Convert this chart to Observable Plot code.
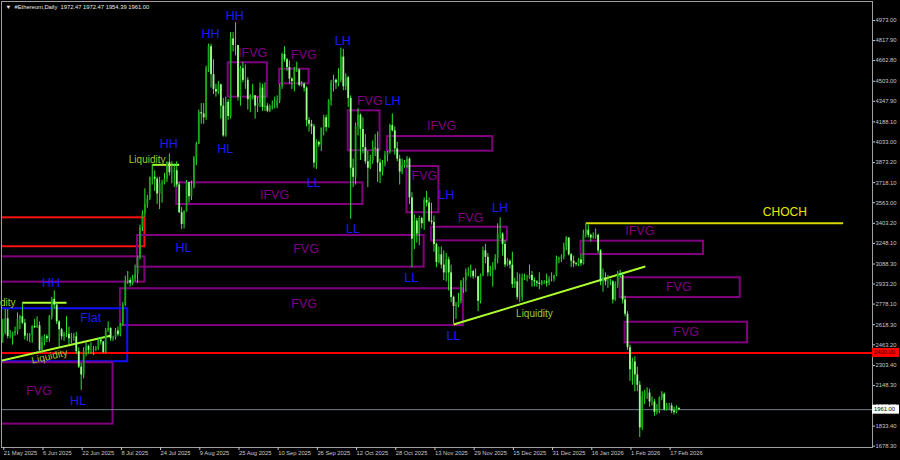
<!DOCTYPE html>
<html><head><meta charset="utf-8">
<script src="https://cdn.jsdelivr.net/npm/d3@7"></script>
<script src="https://cdn.jsdelivr.net/npm/@observablehq/plot@0.6"></script>
<style>
html,body{margin:0;padding:0;background:#000;}
#chart{width:900px;height:460px;overflow:hidden;}
</style></head><body><div id="chart"></div>
<script>
// ---------- data ----------
const firstDate = "2025-05-21";
const firstOpen = 2523;
const closes = [
 2550,2665,2528,2530,2550,2565,2660,2680,2630,2530,2530,
 2540,2605,2595,2610,2420,2480,2525,2510,2680,2815,2770,2640,2580,2525,2540,2545,2510,2520,2525,2410,2290,2230,2410,2450,2420,2420,2425,2435,2500,2485,
 2405,2570,2590,2510,2515,2570,2540,2615,2770,2950,2960,2940,2970,3010,3140,3370,3475,3550,3590,3760,3760,3745,3630,3710,3715,3745,3875,3795,3800,3810,3700,
 3485,3395,3495,3720,3610,3680,3910,4015,4260,4250,4220,4600,4770,4555,4440,4420,4475,4310,4080,4340,4230,4830,4780,4780,4380,4600,4510,4510,4360,4370,4390,
 4310,4330,4450,4300,4310,4270,4300,4310,4310,4350,4460,4710,4670,4610,4520,4500,4590,4590,4470,4480,4450,4200,4170,4150,3870,4030,4010,4140,4220,4145,
 4350,4490,4510,4490,4510,4690,4460,4530,4370,3830,3760,4150,4240,4130,3990,3880,3830,3890,3985,3980,3870,3800,3860,3930,3950,4160,4120,3980,3900,3800,3850,
 3870,3900,3600,3280,3420,3320,3440,3400,3580,3560,3420,3410,3240,3100,3160,3080,3020,3120,3020,2830,2760,2770,2800,2950,2960,3020,3020,3030,2990,2990,
 2800,3000,3190,3140,3020,3040,3060,3130,3320,3320,3240,3080,3110,3080,2930,2950,2830,2830,2980,2980,2980,3000,2960,2950,2940,2930,2950,2950,2940,2970,2970,
 3000,3120,3130,3140,3220,3290,3160,3110,3090,3085,3120,3090,3320,3350,3310,3290,3300,3310,3190,2950,2980,2950,2950,2950,2810,2930,3010,3000,2810,2700,2440,
 2270,2330,2230,2150,1820,2060,2090,2090,2020,2020,1940,1950,2050,2080,1960,1990,1990,1950,1940,1972.47,1961.00
];
const highs = [
 2660,2737,2735,2575,2560,2600,2710,2690,2790,2660,2550,
 2550,2610,2660,2680,2640,2525,2540,2540,2690,2830,2880,2780,2650,2590,2560,2680,2600,2550,2550,2560,2440,2320,2440,2480,2460,2480,2450,2450,2510,2520,
 2490,2590,2640,2595,2530,2590,2600,2630,2790,2995,3030,2980,3000,3080,3150,3390,3500,3670,3620,3760,3860,3810,3760,3760,3735,3790,3880,3940,3880,3860,3880,
 3720,3525,3500,3735,3720,3730,3920,4030,4280,4330,4330,4620,4790,4790,4670,4480,4500,4480,4370,4380,4360,4880,4880,4956,4780,4620,4650,4630,4530,4400,4480,
 4390,4380,4490,4480,4490,4330,4320,4350,4380,4390,4480,4720,4770,4680,4660,4530,4610,4650,4600,4500,4490,4460,4220,4200,4170,4050,4040,4140,4240,4240,
 4360,4510,4550,4520,4600,4760,4750,4560,4540,4390,3900,4180,4290,4250,4220,4090,3960,3930,4040,4090,4110,3900,3890,3960,3960,4170,4250,4150,4030,3930,3900,
 3890,3920,3910,3640,3470,3440,3460,3450,3600,3650,3600,3560,3460,3250,3220,3220,3190,3170,3140,3080,2840,2790,2860,2960,2980,3050,3060,3080,3040,3050,
 2990,3010,3220,3240,3170,3070,3100,3160,3400,3445,3330,3270,3130,3120,3180,2980,3020,3010,3010,3010,3000,3080,3030,2980,2960,3020,2960,2960,3010,2990,3020,
 3000,3150,3140,3160,3250,3300,3290,3170,3150,3100,3130,3160,3350,3400,3390,3320,3330,3360,3320,3200,3050,3020,3000,2970,2960,2950,3030,3040,3010,2840,2720,
 2460,2360,2370,2290,2180,2100,2110,2130,2120,2060,2040,2000,2060,2100,2090,2010,2010,2010,1980,1990,1972.47
];
const lows = [
 2475,2540,2510,2510,2460,2530,2540,2580,2620,2500,2490,
 2480,2475,2590,2590,2400,2400,2455,2480,2480,2655,2740,2620,2440,2500,2490,2520,2465,2470,2490,2390,2280,2110,2200,2370,2390,2390,2380,2410,2420,2460,
 2395,2395,2560,2490,2490,2500,2525,2525,2605,2760,2930,2910,2920,2950,2940,3120,3340,3450,3520,3580,3700,3650,3550,3510,3560,3700,3720,3770,3710,3680,3680,
 3480,3355,3360,3490,3560,3580,3670,3850,4020,4170,4170,4200,4570,4450,4400,4380,4400,4210,4070,4070,4200,4210,4730,4700,4350,4310,4490,4440,4280,4260,4360,
 4210,4260,4300,4270,4270,4260,4260,4280,4290,4290,4330,4440,4650,4580,4480,4440,4420,4570,4460,4460,4420,4150,4110,4090,3830,3820,3990,3960,4080,4110,
 4140,4310,4420,4440,4460,4490,4430,4430,4300,3435,3680,3700,4080,3890,3940,3860,3680,3820,3860,3920,3720,3710,3770,3840,3880,3940,4110,3930,3880,3700,3780,
 3830,3830,3550,3060,3200,3250,3230,3360,3350,3530,3410,3390,3180,3060,3090,3050,2960,2950,2880,2790,2625,2660,2750,2780,2860,2870,2990,2980,2970,2980,
 2720,2780,2990,3090,2990,2990,2910,3040,3090,3280,3150,3060,3070,3050,2900,2900,2810,2790,2800,2960,2950,2970,2910,2910,2910,2890,2920,2930,2910,2920,2950,
 2950,2990,3090,3100,3120,3190,3150,3060,3060,3070,3070,3070,3080,3290,3290,3260,3280,3280,3170,2920,2870,2920,2900,2920,2780,2800,2900,2980,2780,2680,2420,
 2180,2150,2100,2100,1746,1800,2000,2040,1980,1990,1910,1920,1930,2030,1950,1950,1960,1930,1920,1930,1954.39
];

const priceTicks = [4973.00,4817.90,4662.80,4503.00,4347.90,4188.10,4033.00,3873.20,3718.10,3563.00,3403.20,3248.10,3088.30,2933.20,2778.10,2618.30,2463.20,2303.40,2148.30,1988.20,1833.40,1678.30];
const dateTicks = ["2025-05-21","2025-06-06","2025-06-22","2025-07-08","2025-07-24","2025-08-09","2025-08-25","2025-09-10","2025-09-26","2025-10-12","2025-10-28","2025-11-13","2025-11-29","2025-12-15","2025-12-31","2026-01-16","2026-02-01","2026-02-17"];

const titleText = "▼  #Ethereum,Daily  1972.47 1972.47 1954.39 1961.00";
const redLevel = 2400.00;
const bidLevel = 1961.00;

// zones: [start, end, top, bottom, kind]
const zones = [
 ["2025-05-18","2025-07-18",3446,3222,"red"],
 ["2025-05-18","2025-07-18",3144,2948,"fvg"],
 ["2025-07-15","2025-11-09",3309,3064,"fvg"],
 ["2025-07-08","2025-11-25",2897,2612,"fvg"],
 ["2025-07-31","2025-10-15",3717,3549,"fvg"],
 ["2025-11-02","2025-11-15",3843,3485,"fvg"],
 ["2025-11-12","2025-12-13",3373,3268,"fvg"],
 ["2025-10-09","2025-10-22",4274,3965,"fvg"],
 ["2025-10-25","2025-12-07",4075,3962,"fvg"],
 ["2025-08-21","2025-09-06",4646,4380,"fvg"],
 ["2025-09-11","2025-09-23",4596,4483,"fvg"],
 ["2026-01-12","2026-03-03",3265,3162,"fvg"],
 ["2026-01-28","2026-03-18",2982,2829,"fvg"],
 ["2026-01-30","2026-03-21",2638,2478,"fvg"],
 ["2025-05-18","2025-07-11",2742,2332,"flat"],
 ["2025-05-18","2025-07-05",2324,1849,"fvg"]
];
// lines: [start, price1, end, price2, kind]
const trendLines = [
 ["2026-01-14",3403,"2026-04-29",3403,"choch"],
 ["2025-11-21",2620,"2026-02-07T06:00Z",3069,"liq"],
 ["2025-07-21",3856,"2025-08-01",3856,"liq"],
 ["2025-05-29",2788,"2025-06-16",2788,"liq"],
 ["2025-05-19",2334,"2025-07-04",2533,"liq"]
];
// structure labels: [text, date, price]
const structureLabels = [
 ["HH","2025-08-23T17:00Z",5010],["HH","2025-08-13T19:00Z",4865],["HH","2025-07-27T19:00Z",4019],["HH","2025-06-09T17:00Z",2940],
 ["HL","2025-08-19T19:00Z",3980],["HL","2025-08-02T19:00Z",3214],["HL","2025-06-20T17:00Z",2027],
 ["LH","2025-10-06T19:00Z",4813],["LH","2025-10-27T02:00Z",4349],["LH","2025-11-18T00:00Z",3626],["LH","2025-12-09T22:00Z",3523],
 ["LL","2025-09-24T22:00Z",3715],["LL","2025-10-10T22:00Z",3362],["LL","2025-11-03T17:00Z",2982],["LL","2025-11-21T00:00Z",2534],
 ["Flat","2025-06-25T22:00Z",2669]
];
const gapLabels = [
 ["FVG","2025-09-21T00:00Z",2780],["FVG","2025-09-21T19:00Z",3201],["FVG","2025-06-04T19:00Z",2102],
 ["IFVG","2025-09-08T22:00Z",3624],["IFVG","2025-08-31T00:00Z",4723],["FVG","2025-09-20T22:00Z",4710],
 ["FVG","2025-10-17T19:00Z",4354],["IFVG","2025-11-16T02:00Z",4158],["FVG","2025-11-09T02:00Z",3766],
 ["FVG","2025-11-27T22:00Z",3446],["IFVG","2026-02-05T00:00Z",3342],["FVG","2026-02-20T22:00Z",2914],
 ["FVG","2026-02-23T22:00Z",2561]
];
const liquidityLabels = [
 ["Liquidity","2025-07-18T22:00Z",3897,0,"middle"],
 ["Liquidity","2025-12-24T00:00Z",2703,0,"middle"],
 ["Liquidity","2025-05-26T05:00Z",2790,0,"end"],
 ["Liquidity","2025-06-09T02:00Z",2373,-12.8,"middle"]
];
const chochLabel = ["CHOCH","2026-04-05T05:00Z",3489];

// ---------- build ----------
const FONT = "'Liberation Sans', Arial, sans-serif";
const start = new Date(firstDate);
const DAY = 864e5;
const candles = closes.map((c, i) => {
  const open = i ? closes[i - 1] : firstOpen;
  return {date: d3.utcDay.offset(start, i), open, close: c,
          high: Math.max(highs[i], open, c), low: Math.min(lows[i], open, c)};
});
const zoneData = zones.map(([s, e, t, b, k]) => ({x1: new Date(s), x2: new Date(e), y1: t, y2: b, k}));
const lineData = trendLines.map(([s, p1, e, p2, k]) => ({x1: new Date(s), y1: p1, x2: new Date(e), y2: p2, k}));
const lab = a => a.map(([t, d, p, r, anc]) => ({t, x: new Date(d), y: p, r: r || 0, anc}));

const zoneColor = {red: "#ff1010", fvg: "#800080", flat: "#1010ff"};
const lineColor = {choch: "#d8d800", liq: "#adff2f"};

const chart = Plot.plot({
  width: 900, height: 460,
  marginLeft: 1, marginRight: 28, marginTop: 1, marginBottom: 13,
  style: {background: "#000", color: "#c8c8c8", fontFamily: FONT, fontSize: "5.8px"},
  x: {type: "utc", domain: [new Date(+start - 0.53 * DAY), new Date(+start + 355 * DAY)]},
  y: {domain: [1668.2, 5120.3]},
  marks: [
    Plot.rect(zoneData, {x1: "x1", x2: "x2", y1: "y1", y2: "y2", fill: "none",
      stroke: d => zoneColor[d.k], strokeWidth: 2, clip: true}),
    Plot.ruleY([redLevel], {stroke: "#ff0000", strokeWidth: 2}),
    Plot.ruleY([bidLevel], {stroke: "#6f7f8f", strokeWidth: 1}),
    Plot.link(lineData, {x1: "x1", y1: "y1", x2: "x2", y2: "y2",
      stroke: d => lineColor[d.k], strokeWidth: 2, clip: true}),
    Plot.text(lab(structureLabels), {x: "x", y: "y", text: "t", fill: "#1a1aff",
      fontSize: 12.5, fontFamily: FONT}),
    Plot.text(lab(gapLabels), {x: "x", y: "y", text: "t", fill: "#800080",
      fontSize: 12.5, fontFamily: FONT}),
    Plot.text(lab(liquidityLabels).filter(d => d.anc === "middle"), {x: "x", y: "y", text: "t", fill: "#9acd32",
      rotate: "r", fontSize: 10, fontFamily: FONT, clip: true}),
    Plot.text(lab(liquidityLabels).filter(d => d.anc === "end"), {x: "x", y: "y", text: "t", fill: "#9acd32",
      textAnchor: "end", fontSize: 10, fontFamily: FONT}),
    Plot.text([chochLabel], {x: d => new Date(d[1]), y: d => d[2], text: d => d[0], fill: "#e8e800",
      fontSize: 12, fontFamily: FONT}),
    // candles
    Plot.ruleX(candles, {x: "date", y1: "low", y2: "high", stroke: "#2ee62e", strokeWidth: 1}),
    Plot.ruleX(candles, {x: "date", y1: "open", y2: "close",
      stroke: d => d.close >= d.open ? "#17a817" : "#9cff8c", strokeWidth: 1.8}),
    Plot.frame({stroke: "#a0a0a0", strokeWidth: 1}),
    Plot.axisY(priceTicks, {anchor: "right", tickFormat: d => d.toFixed(2), tickSize: 2, tickPadding: 1,
      fontSize: 5.8, color: "#c8c8c8"}),
    Plot.axisX(dateTicks.map(d => new Date(d)), {anchor: "bottom", tickFormat: d3.utcFormat("%-d %b %Y"),
      textAnchor: "start", tickSize: 3, tickPadding: 0, dx: 1, fontSize: 5.8, color: "#c8c8c8"}),
    Plot.text([titleText], {frameAnchor: "top-left", dx: 4, dy: 3, fill: "#e8e8e8", fontSize: 5.8,
      textAnchor: "start", lineAnchor: "top"})
  ]
});
document.getElementById("chart").appendChild(chart);

// price tags on the right axis, placed through the plot's own y scale
const ys = chart.scale("y");
const xRight = 900 - 28;
const svg = d3.select(chart);
[[redLevel, "#ff0000", "#300000"], [bidLevel, "#ffffff", "#000000"]].forEach(([v, bg, fg]) => {
  const yy = ys.apply(v);
  const g = svg.append("g");
  g.append("rect").attr("x", xRight).attr("y", yy - 4.5).attr("width", 27).attr("height", 9).attr("fill", bg);
  g.append("text").attr("x", xRight + 2).attr("y", yy).attr("dy", "0.35em").attr("fill", fg)
    .attr("text-anchor", "start").attr("font-size", 5.8).attr("font-family", FONT).text(v.toFixed(2));
});
</script></body></html>
